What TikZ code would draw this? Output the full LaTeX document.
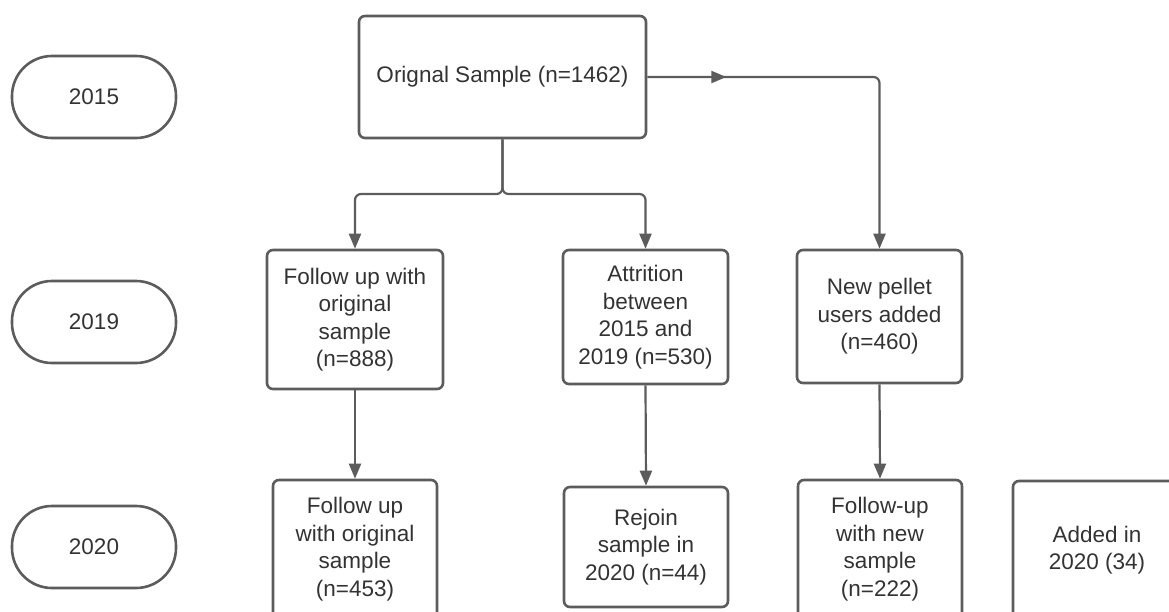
\documentclass[tikz,border=0pt]{standalone}
\usepackage{fontspec}
\setmainfont{Liberation Sans}
\usetikzlibrary{arrows.meta,decorations.markings}
\definecolor{linegray}{HTML}{5C5C5C}
\definecolor{txtgray}{HTML}{333333}
\begin{document}
\begin{tikzpicture}[x=1pt,y=-1pt,
  every node/.style={font=\fontsize{22.5}{27.5}\selectfont, text=txtgray, align=center, inner sep=0pt},
  box/.style={draw=linegray, line width=2.6pt, rounded corners=6pt, rectangle},
  pill/.style={draw=linegray, line width=2.6pt, rounded corners=40pt, rectangle, minimum width=164pt, minimum height=82pt},
  conn/.style={draw=linegray, line width=2.2pt, -{Triangle[length=15pt,width=12pt]}},
  fork/.style={draw=linegray, line width=2.2pt, rounded corners=6pt, -{Triangle[length=15pt,width=12pt]}}
]
\useasboundingbox (0,0) rectangle (1169,611);

% year pills
\node[pill] (y15) at (94,97) {2015};
\node[pill] (y19) at (94,322) {2019};
\node[pill] (y20) at (94,547) {2020};

% boxes
\node[box, minimum width=287pt, minimum height=122pt] (orig) at (502.5,77) {Orignal Sample (n=1462)};
\node[box, minimum width=176pt, minimum height=139pt] (b1) at (355,319.5) {Follow up with\\original\\sample\\(n=888)};
\node[box, minimum width=165pt, minimum height=134pt] (b2) at (645.5,317) {Attrition\\between\\2015 and\\2019 (n=530)};
\node[box, minimum width=165pt, minimum height=133pt] (b3) at (879.5,316.5) {New pellet\\users added\\(n=460)};
\node[box, minimum width=164pt, minimum height=138pt] (b4) at (355,549) {Follow up\\with original\\sample\\(n=453)};
\node[box, minimum width=164pt, minimum height=120pt] (b5) at (646,547) {Rejoin\\sample in\\2020 (n=44)};
\node[box, minimum width=164pt, minimum height=138pt] (b6) at (880,549) {Follow-up\\with new\\sample\\(n=222)};
\node[box, minimum width=168pt, minimum height=138pt] (b7) at (1097,550) {Added in\\2020 (34)};

% fork from original sample
\coordinate (fk) at (502.5,194);
\draw[fork] (orig.south) -- (fk) -| (b1.north);
\draw[fork] (orig.south) -- (fk) -| (b2.north);

% right branch with mid arrow
\draw[fork, postaction={decorate},
  decoration={markings, mark=at position 79pt with {\arrow{Triangle[length=15pt,width=12pt]}}}]
  (orig.east) -| (b3.north);

% vertical connectors
\draw[conn] (b1.south) -- (b4.north);
\draw[conn] (b2.south) -- (b5.north);
\draw[conn] (b3.south) -- (b6.north);
\end{tikzpicture}
\end{document}
